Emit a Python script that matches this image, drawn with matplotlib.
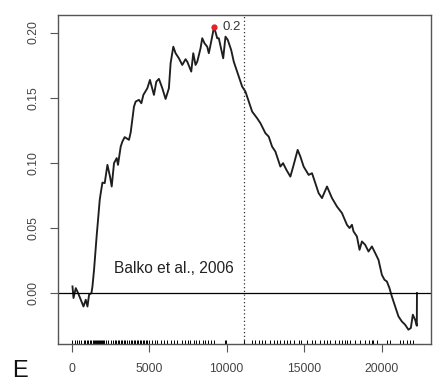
import matplotlib.pyplot as plt
from matplotlib import transforms

plt.rcParams['font.family'] = ['Liberation Sans', 'DejaVu Sans']

# running enrichment score along the ranked gene list
n_genes = 22283
rank = [45, 110, 258, 406, 580, 754, 902, 1012, 1115, 1269, 1334, 1437, 1611, 1695,
        1804, 1868, 1978, 2126, 2300, 2468, 2577, 2725, 2899, 2983, 3157, 3267, 3415,
        3692, 3801, 4014, 4124, 4336, 4491, 4620, 4877, 5045, 5303, 5457, 5625, 5844,
        6056, 6269, 6379, 6553, 6701, 6913, 7132, 7345, 7455, 7712, 7841, 7989, 8099,
        8312, 8421, 8569, 8743, 8846, 8956, 9104, 9181, 9388, 9491, 9774, 9922, 10070,
        10289, 10457, 10998, 11211, 11643, 11965, 12177, 12500, 12712, 12931, 13144,
        13466, 13640, 13853, 14110, 14323, 14581, 14755, 14967, 15290, 15508, 15721,
        15934, 16153, 16475, 16797, 17119, 17441, 17763, 17931, 18085, 18189, 18408,
        18575, 18730, 18942, 19155, 19374, 19587, 19799, 20018, 20186, 20340, 20508,
        20662, 20875, 21088, 21307, 21519, 21732, 21887, 22016, 22164, 22273, 22283]
score = [0.0051, -0.0038, 0.0038, 0.0, -0.0051, -0.0103, -0.0051, -0.0103, -0.0013,
         0.0, 0.0051, 0.0179, 0.0447, 0.0562, 0.0716, 0.0767, 0.0848, 0.0844, 0.0984,
         0.0894, 0.0818, 0.0997, 0.1036, 0.0984, 0.1124, 0.1163, 0.1197, 0.1176, 0.1232,
         0.1431, 0.1470, 0.1483, 0.1457, 0.1521, 0.1572, 0.1636, 0.1521, 0.1623, 0.1644,
         0.1572, 0.1490, 0.1572, 0.1764, 0.1891, 0.1841, 0.1802, 0.1751, 0.1795, 0.1776,
         0.1700, 0.1841, 0.1751, 0.1776, 0.1879, 0.1956, 0.1917, 0.1891, 0.1841, 0.1905,
         0.1994, 0.2045, 0.1956, 0.1956, 0.1802, 0.1968, 0.1943, 0.1866, 0.1776, 0.1585,
         0.1546, 0.1393, 0.1342, 0.1304, 0.1227, 0.1201, 0.1124, 0.1086, 0.0971, 0.0997,
         0.0946, 0.0894, 0.0984, 0.1099, 0.1048, 0.0971, 0.0907, 0.0920, 0.0844, 0.0767,
         0.0729, 0.0818, 0.0729, 0.0664, 0.0614, 0.0524, 0.0499, 0.0524, 0.0473, 0.0434,
         0.0332, 0.0396, 0.0370, 0.0319, 0.0358, 0.0307, 0.0255, 0.0140, 0.0102, 0.0089,
         0.0038, -0.0026, -0.0103, -0.0179, -0.0218, -0.0243, -0.0281, -0.0268, -0.0166,
         -0.0205, -0.0251, 0.0]

# positions of gene set members in the ranking
hits = [45, 193, 322, 470, 625, 773, 870, 966, 1063, 1160, 1256, 1353, 1418, 1482,
        1546, 1611, 1675, 1740, 1804, 1868, 1933, 1997, 2081, 2191, 2339, 2513, 2687,
        2770, 2867, 2964, 3060, 3157, 3254, 3350, 3447, 3544, 3692, 3801, 3898, 3995,
        4091, 4188, 4285, 4381, 4478, 4575, 4671, 4768, 4864, 4961, 5200, 5348, 5522,
        5734, 5947, 6166, 6379, 6591, 6810, 7107, 7281, 7493, 7648, 7861, 8009, 8183,
        8440, 8614, 8782, 9001, 9149, 9903, 9942, 11101, 11643, 11855, 12068, 12287,
        12500, 12822, 13034, 13253, 13466, 13679, 13898, 14110, 14323, 14645, 14819,
        15186, 15508, 15721, 16043, 16256, 16475, 16688, 17010, 17222, 17441, 17654,
        17763, 17976, 18298, 18621, 18943, 19155, 19374, 19477, 19696, 20340, 20553,
        21197, 21410, 21629, 21841, 22054]

x_ticks = [0, 5000, 10000, 15000, 20000]
y_ticks = [0.0, 0.05, 0.10, 0.15, 0.20]
y_labels = ['0.00', '0.05', '0.10', '0.15', '0.20']

fig = plt.figure(figsize=(4.36, 3.89), dpi=100)
ax = fig.add_axes([0.133, 0.116, 0.855, 0.846])

ax.plot(rank, score, color='#1e1e1e', lw=1.35)
ax.axhline(0, color='black', lw=0.9)
ax.axvline(n_genes / 2, color='#333333', lw=0.9, ls=(0, (1, 2)))

# maximum deviation
imax = score.index(max(score))
ax.plot(rank[imax], score[imax], 'o', color='#e8202a', ms=3.5, zorder=5)
ax.annotate(f'{score[imax]:.1f}', (rank[imax], score[imax]), xytext=(6, 0),
            textcoords='offset points', va='center', ha='left',
            fontsize=9.5, color='#333333')

# rug of hits along the bottom
trans = transforms.blended_transform_factory(ax.transData, ax.transAxes)
ax.vlines(hits, 0, 0.013, transform=trans, color='black', lw=0.7)

ax.text(2700, 0.0186, 'Balko et al., 2006', fontsize=11.2, color='#222222',
        va='center', ha='left')
fig.text(0.028, 0.031, 'E', fontsize=17, color='#111111')

ax.set_xlim(-891, 23174)
ax.set_ylim(-0.039, 0.2136)
ax.set_xticks(x_ticks)
ax.set_xticklabels([str(t) for t in x_ticks])
ax.set_yticks(y_ticks)
ax.set_yticklabels(y_labels, rotation=90, va='center')
ax.tick_params(direction='out', length=6, width=0.8, color='#555555',
               labelcolor='#444444', labelsize=8.7)
ax.tick_params(axis='x', pad=8)
ax.tick_params(axis='y', pad=7)
for s in ax.spines.values():
    s.set_color('#555555')
    s.set_linewidth(1.0)

fig.savefig('out.png', dpi=100)
